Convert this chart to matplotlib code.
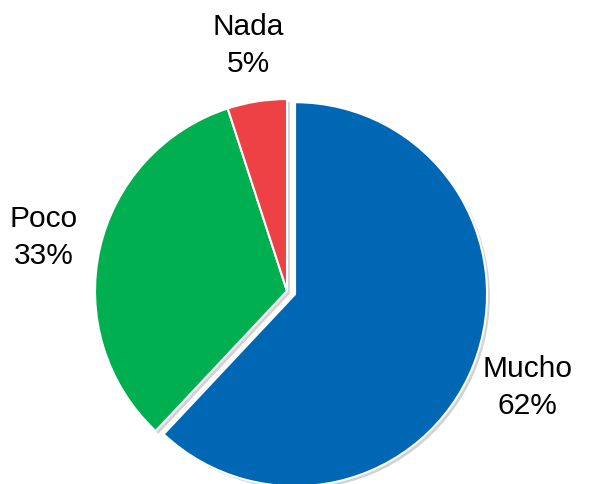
import matplotlib.pyplot as plt
import matplotlib.patheffects as pe

# Datos
categorias = ['Mucho', 'Poco', 'Nada']
porcentajes = [62, 33, 5]
colores = ['#0067B4', '#00AF50', '#EE4146']
separar = [0.045, 0, 0]

plt.rcParams['font.family'] = ['Liberation Sans', 'DejaVu Sans']

fig = plt.figure(figsize=(5.89, 4.85), dpi=100)
ax = fig.add_axes([0, 0, 1, 1])

etiquetas = [f'{c}\n{p}%' for c, p in zip(categorias, porcentajes)]

wedges, textos = ax.pie(
    porcentajes,
    labels=etiquetas,
    colors=colores,
    explode=separar,
    startangle=90,
    counterclock=False,
    labeldistance=1.3,
    wedgeprops=dict(edgecolor='white', linewidth=1.5),
    textprops=dict(fontsize=21.5, color='black', linespacing=1.4),
)

for w in wedges:
    w.set_path_effects([
        pe.SimplePatchShadow(offset=(2, -2), shadow_rgbFace='gray', alpha=0.35),
        pe.Normal(),
    ])

for t in textos:
    t.set_ha('center')
    t.set_va('center')

# ajustar posición del pastel dentro de la figura
ax.set_xlim(-1.495, 1.573)
ax.set_ylim(-1.005, 1.521)
ax.set_aspect('auto')
ax.axis('off')

plt.savefig('out.png', dpi=100)
